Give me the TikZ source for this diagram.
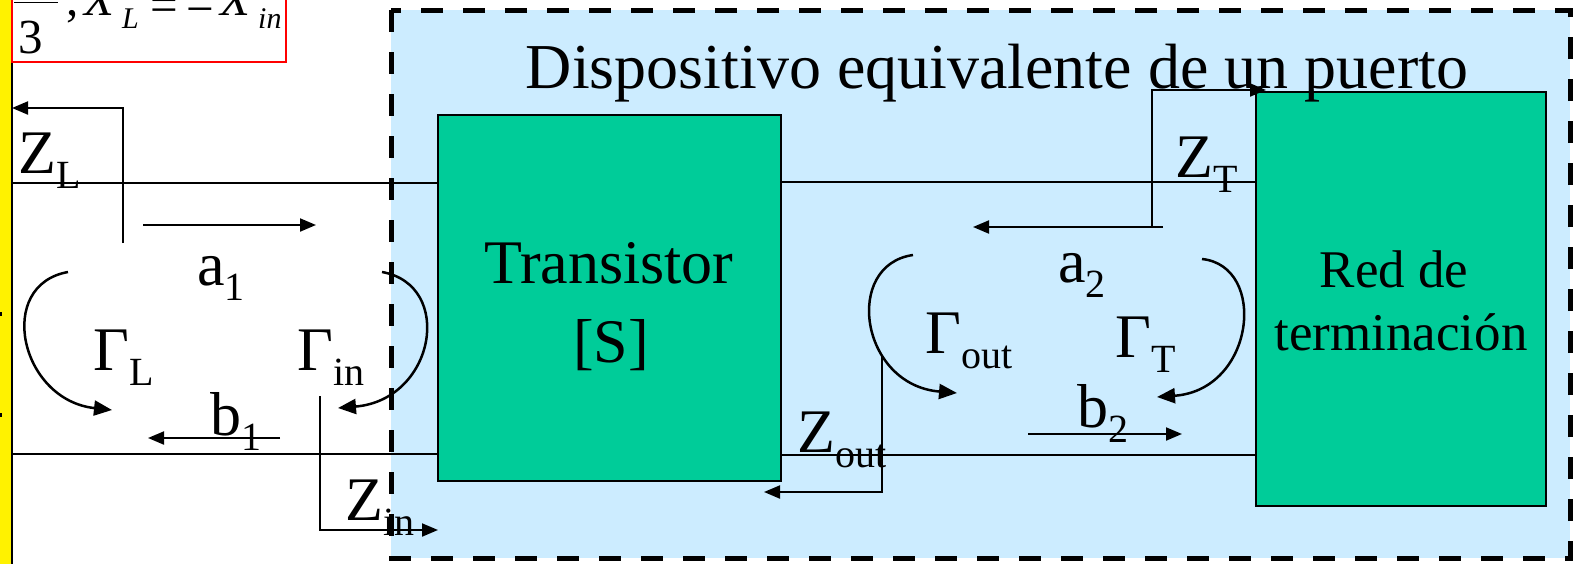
\documentclass[tikz,border=0pt]{standalone}
\usepackage{fontspec}
\setmainfont{Liberation Serif}
\usetikzlibrary{arrows.meta}
\definecolor{tgreen}{HTML}{00CC99}
\definecolor{lblue}{HTML}{CCECFF}
\newcommand\fs[1]{\fontsize{#1}{#1}\selectfont}
\newcommand\lab[2]{\fs{62}#1\raisebox{-15pt}{\fs{40}#2}}
\begin{document}
\begin{tikzpicture}[x=1pt,y=-1pt,
  wire/.style={line width=2pt},
  arr/.style={line width=2pt,-{Triangle[length=16pt,width=13pt]}},
  bendarrow/.style={line width=2.5pt,-{Triangle[length=18pt,width=15pt]}},
  greenbox/.style={draw=black,line width=2pt,fill=tgreen,inner sep=0pt},
  lbl/.style={anchor=base west,inner sep=0pt},
  ctext/.style={anchor=base,inner sep=0pt},
  dashbox/.style={draw=black,line width=5pt,dash pattern=on 22pt off 20pt,fill=lblue}
]
\useasboundingbox (0,0) rectangle (1575,563);
\clip (0,0) rectangle (1575,563);
\fill[white] (0,0) rectangle (1575,563);

% equivalent one-port region
\fill[lblue] (391,10) rectangle (1570,558);

% yellow bar on the left
\fill[yellow] (0,-5) rectangle (11,570);
\draw[line width=2pt] (11.5,-5) -- (11.5,570);
\fill[black] (0,312) rectangle (2,316);
\fill[black] (0,413) rectangle (2,417);

% red formula box (clipped)
\draw[red,line width=2pt] (12,-10) rectangle (286,62);
\draw[line width=1.5pt] (14,2.5) -- (58,2.5);
\node[lbl] (three) at (18,53) {\fs{49}3};
\node[lbl] (comma) at (66,15) {\fs{49},};
\node[lbl] (xl) at (84,15) {\fs{49}\itshape X};
\node[lbl] (xlsub) at (122,28) {\fs{30}\itshape L};
\node[lbl] (eq) at (150,21) {\fs{49}=};
\node[lbl] (minus) at (186,25) {\fs{49}−};
\node[lbl] (xin) at (220,15) {\fs{49}\itshape X};
\node[lbl] (xinsub) at (258,28) {\fs{30}\itshape in};

% coordinates
\coordinate (yl1) at (12,183);
\coordinate (yl2) at (12,454);

% boxes
\node[greenbox,minimum width=343pt,minimum height=366pt] (tr) at (609.5,298) {};
\node[greenbox,minimum width=290pt,minimum height=414pt] (red) at (1401,299) {};

% conductors
\draw[wire] (yl1) -- (yl1 -| tr.west);
\draw[wire] (yl2) -- (yl2 -| tr.west);
\coordinate (tr1) at (781,182);
\coordinate (tr2) at (781,455);
\draw[wire] (tr1) -- (tr1 -| red.west);
\draw[wire] (tr2) -- (tr2 -| red.west);

% dashed border
\draw[dash pattern=on 22pt off 20pt,line width=5pt] (391,10) rectangle (1570,558);

% box texts
\node[ctext] (ttr) at (609,283) {\fs{62}Transistor};
\node[ctext] (ts) at (611,362) {\fs{62}[S]};
\node[ctext] (tred1) at (1394,287) {\fs{53}Red de};
\node[ctext] (tred2) at (1401,350) {\fs{53}terminación};
\node[ctext] (title) at (997,88) {\fs{64}Dispositivo equivalente de un puerto};

% impedance arrows
\coordinate (zl0) at (123,243);
\coordinate (zl1) at (12,108);
\draw[arr] (zl0) |- (zl1);
\coordinate (zi0) at (320,396);
\coordinate (zi1) at (438,530);
\draw[arr] (zi0) |- (zi1);
\coordinate (zo0) at (882,357);
\coordinate (zo1) at (764,492);
\draw[arr] (zo0) |- (zo1);
\coordinate (zt0) at (1152,226);
\coordinate (zt1) at (1266,90);
\draw[arr] (zt0) |- (zt1);

% wave arrows
\coordinate (a1s) at (143,225);
\coordinate (a1e) at (316,225);
\draw[arr] (a1s) -- (a1e);
\coordinate (b1s) at (280,438);
\coordinate (b1e) at (148,438);
\draw[arr] (b1s) -- (b1e);
\coordinate (a2s) at (1163,227);
\coordinate (a2e) at (973,227);
\draw[arr] (a2s) -- (a2e);
\coordinate (b2s) at (1028,434);
\coordinate (b2e) at (1182,434);
\draw[arr] (b2s) -- (b2e);

% reflection arrows
\coordinate (gls) at (68,272);
\coordinate (gle) at (112,410);
\draw[bendarrow] (gls) .. controls (-5,285) and (20,400) .. (gle);
\coordinate (gis) at (382,272);
\coordinate (gie) at (338,408);
\draw[bendarrow] (gis) .. controls (455,285) and (435,400) .. (gie);
\coordinate (gos) at (913,255);
\coordinate (goe) at (957,393);
\draw[bendarrow] (gos) .. controls (843,265) and (860,385) .. (goe);
\coordinate (gts) at (1202,259);
\coordinate (gte) at (1157,397);
\draw[bendarrow] (gts) .. controls (1268,266) and (1255,390) .. (gte);

% labels
\node[lbl] (lzl) at (18,173) {\lab{Z}{L}};
\node[lbl] (la1) at (197,285) {\lab{a}{1}};
\node[lbl] (lgl) at (93,370) {\lab{Γ}{L}};
\node[lbl] (lgi) at (297,370) {\lab{Γ}{in}};
\node[lbl] (lb1) at (210,435) {\lab{b}{1}};
\node[lbl] (lzi) at (345,520) {\lab{Z}{in}};
\node[lbl] (lzo) at (797,452) {\lab{Z}{out}};
\node[lbl] (lgo) at (925,353) {\lab{Γ}{out}};
\node[lbl] (lgt) at (1115,357) {\lab{Γ}{T}};
\node[lbl] (la2) at (1058,282) {\lab{a}{2}};
\node[lbl] (lb2) at (1077,427) {\lab{b}{2}};
\node[lbl] (lzt) at (1175,177) {\lab{Z}{T}};
\end{tikzpicture}
\end{document}
